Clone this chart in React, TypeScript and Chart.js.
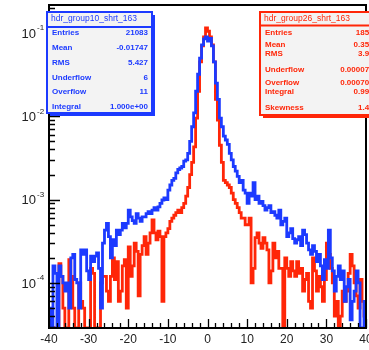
import React, { useEffect, useRef } from 'react';
import { Chart, registerables } from 'chart.js';

Chart.register(...registerables);

// Histogram definition: 160 bins from -40 to 40
const X_MIN = -40;
const X_MAX = 40;
const N_BINS = 160;
const Y_MIN = 2.88e-5;
const Y_MAX = 0.217;

// Blue histogram (group10) bin contents
const blueValues = [
  5e-5, 0, 1.6e-4, 1.3e-4, 0, 1.6e-4, 1.2e-4, 1e-4, 8e-5, 1e-4,
  5e-5, 2e-4, 2.2e-4, 1.1e-4, 1e-4, 5e-5, 2.5e-4, 2.2e-4, 2.5e-4, 1.4e-4,
  1.1e-4, 2.1e-4, 1.8e-4, 2.1e-4, 2.3e-4, 1.5e-4, 5e-5, 3e-4, 4.3e-4, 5.2e-4,
  3.6e-4, 2e-4, 3.3e-4, 2.8e-4, 4.3e-4, 3.8e-4, 4.3e-4, 5.2e-4, 4.6e-4, 5.2e-4,
  7.5e-4, 6.2e-4, 5.6e-4, 5.2e-4, 6.8e-4, 6e-4, 5.5e-4, 6.2e-4, 6.2e-4, 6.8e-4,
  7.2e-4, 6.8e-4, 7.5e-4, 8e-4, 7.5e-4, 8.2e-4, 9e-4, 9.9e-4, 1.05e-3, 1.0e-3,
  1.3e-3, 1.5e-3, 1.7e-3, 1.8e-3, 2.1e-3, 2.3e-3, 2.4e-3, 2.5e-3, 2.9e-3, 3.0e-3,
  3.6e-3, 5e-3, 7.5e-3, 1.1e-2, 2e-2, 3.2e-2, 5e-2, 7.2e-2, 8.5e-2, 9e-2,
  8e-2, 8.6e-2, 7e-2, 4.5e-2, 2.5e-2, 1.6e-2, 9.5e-3, 7.5e-3, 5.8e-3, 5.2e-3,
  4.6e-3, 3.6e-3, 3e-3, 2.5e-3, 2.2e-3, 1.9e-3, 1.6e-3, 1.7e-3, 1.3e-3, 1.2e-3,
  9e-4, 1.2e-3, 1.1e-3, 1.6e-3, 1.0e-3, 1.1e-3, 9e-4, 9.5e-4, 8.5e-4, 7.5e-4,
  8e-4, 8.5e-4, 7e-4, 7.2e-4, 6.5e-4, 6e-4, 7.5e-4, 5e-4, 5.5e-4, 6e-4,
  3.6e-4, 4e-4, 4.5e-4, 3.4e-4, 3e-4, 3.3e-4, 3.6e-4, 2.8e-4, 4.3e-4, 3.8e-4,
  3e-4, 2.5e-4, 2.2e-4, 2.8e-4, 2.4e-4, 1.8e-4, 2.2e-4, 1.6e-4, 1.1e-4, 1.9e-4,
  1.5e-4, 4.3e-4, 2e-4, 1.4e-4, 8e-5, 1.2e-4, 1.6e-4, 1.1e-4, 1.4e-4, 6e-5,
  9e-5, 1.1e-4, 3.6e-5, 6e-5, 8e-5, 1.4e-4, 1e-4, 0, 0, 6e-5,
];

// Red histogram (group26) bin contents
const redValues = [
  0, 0, 0, 0, 0, 1.7e-4, 1.2e-4, 5e-5, 0, 0,
  1.9e-4, 1.2e-4, 5e-5, 0, 0, 1e-4, 6e-5, 5e-5, 0, 0,
  0, 1.5e-4, 1.3e-4, 0, 0, 0, 1e-4, 1.2e-4, 1.2e-4, 8e-5,
  6e-5, 1.2e-4, 2e-4, 1.1e-4, 1.8e-4, 6e-5, 8e-5, 1.6e-4, 1.9e-4, 5e-5,
  2.7e-4, 1.2e-4, 1.6e-4, 3e-4, 2.4e-4, 7e-5, 2.2e-4, 2.8e-4, 3.6e-4, 2.2e-4,
  3e-4, 4e-4, 5.7e-4, 4e-4, 3.3e-4, 4.2e-4, 3.6e-4, 6e-5, 3.6e-4, 4e-4,
  4.5e-4, 5.5e-4, 6e-4, 6.5e-4, 7e-4, 7.5e-4, 7e-4, 8e-4, 9e-4, 1.1e-3,
  1.4e-3, 2e-3, 2.8e-3, 4.3e-3, 9.5e-3, 2e-2, 4.5e-2, 7e-2, 9e-2, 1.15e-1,
  1.05e-1, 9e-2, 7.2e-2, 4.5e-2, 1.6e-2, 9e-3, 4.5e-3, 2.8e-3, 1.7e-3, 1.6e-3,
  1.5e-3, 1.4e-3, 1.2e-3, 1e-3, 9e-4, 8e-4, 7e-4, 6e-4, 6e-4, 5e-4,
  5e-4, 6e-4, 1e-4, 1.5e-4, 3.5e-4, 4e-4, 3e-4, 2.6e-4, 3.5e-4, 3e-4,
  2.5e-4, 1e-4, 1.4e-4, 3e-4, 2e-4, 2.4e-4, 1.5e-4, 1.5e-4, 0, 2e-4,
  1.5e-4, 1.2e-4, 1.8e-4, 1.4e-4, 1.2e-4, 1.8e-4, 1.3e-4, 1.5e-4, 8e-5, 1.1e-4,
  1.3e-4, 6e-5, 5e-5, 2e-4, 1.4e-4, 8e-5, 1.2e-4, 9e-5, 6e-5, 1.1e-4,
  3e-4, 2.2e-4, 1.5e-4, 1e-4, 4e-5, 6e-5, 0, 4e-5, 8e-5, 6e-5,
  8e-5, 1.3e-4, 2.2e-4, 1.6e-4, 1e-4, 7e-5, 5e-5, 1.1e-4, 6e-5, 4e-5,
];

// Axis ticks / labels
const xMajorTicks = [-40, -30, -20, -10, 0, 10, 20, 30, 40];
const xTickLabels = ['-40', '-30', '-20', '-10', '0', '10', '20', '30', '40'];
const xMinorStep = 2;
const yDecades = [1e-4, 1e-3, 1e-2, 1e-1];
const yExponentLabels = ['-4', '-3', '-2', '-1'];

// Stats boxes
const blueTitle = 'hdr_group10_shrt_163';
const blueStatLabels = ['Entries', 'Mean', 'RMS', 'Underflow', 'Overflow', 'Integral'];
const blueStatValues = ['21083', '-0.01747', '5.427', '6', '11', '1.000e+00'];
const redTitle = 'hdr_group26_shrt_163';
const redStatLabels = ['Entries', 'Mean', 'RMS', 'Underflow', 'Overflow', 'Integral', 'Skewness'];
const redStatValues = ['18520', '0.3555', '3.945', '0.0000771', '0.0007016', '0.9990', '1.439'];

const BLUE = 'rgb(28,58,255)';
const RED = 'rgb(255,38,8)';
const FONT = 'Liberation Sans, Arial, Helvetica, sans-serif';

function histPoints(values: number[]) {
  const w = (X_MAX - X_MIN) / N_BINS;
  const pts: { x: number; y: number }[] = [];
  for (let i = 0; i <= N_BINS; i++) {
    const v = values[Math.min(i, N_BINS - 1)];
    pts.push({ x: X_MIN + i * w, y: v > 0 ? v : Y_MIN });
  }
  return pts;
}

function drawStatBox(
  ctx: CanvasRenderingContext2D,
  x: number, y: number, w: number, h: number,
  color: string, title: string, labels: string[], values: string[],
  titleY: number, sepY: number, rowYs: number[], valueRight: number
) {
  ctx.save();
  ctx.fillStyle = color;
  ctx.fillRect(x + 3, y + 3, w, h);
  ctx.fillStyle = '#f3f3f3';
  ctx.fillRect(x, y, w, h);
  ctx.strokeStyle = color;
  ctx.lineWidth = 2;
  ctx.strokeRect(x, y, w, h);
  ctx.beginPath();
  ctx.moveTo(x, sepY);
  ctx.lineTo(x + w, sepY);
  ctx.stroke();
  ctx.fillStyle = color;
  ctx.textBaseline = 'middle';
  ctx.font = `8.5px ${FONT}`;
  ctx.textAlign = 'left';
  ctx.fillText(title, x + 4, titleY);
  ctx.font = `bold 8px ${FONT}`;
  labels.forEach((l, i) => {
    ctx.textAlign = 'left';
    ctx.fillText(l, x + 5, rowYs[i]);
    ctx.textAlign = 'right';
    ctx.fillText(values[i], valueRight, rowYs[i]);
  });
  ctx.restore();
}

const rootPlugin = {
  id: 'rootFrame',
  afterDatasetsDraw(chart: any) {
    const { ctx, chartArea: a, scales } = chart;
    const xs = scales.x;
    const ys = scales.y;
    ctx.save();
    ctx.strokeStyle = '#000';
    ctx.lineWidth = 2;
    ctx.strokeRect(a.left, a.top, a.right - a.left, a.bottom - a.top);

    // y ticks (log)
    ctx.lineWidth = 1.3;
    ctx.beginPath();
    for (let e = -5; e <= -1; e++) {
      for (let m = 1; m <= 9; m++) {
        const v = m * Math.pow(10, e);
        if (v < Y_MIN || v > Y_MAX) continue;
        const py = Math.round(ys.getPixelForValue(v)) + 0.5;
        const len = m === 1 ? 11 : 6;
        ctx.moveTo(a.left, py);
        ctx.lineTo(a.left + len, py);
      }
    }
    // x ticks
    for (let v = X_MIN; v <= X_MAX; v += xMinorStep) {
      const px = Math.round(xs.getPixelForValue(v)) + 0.5;
      const len = v % 10 === 0 ? 9 : 5;
      ctx.moveTo(px, a.bottom);
      ctx.lineTo(px, a.bottom - len);
    }
    ctx.stroke();

    // labels
    ctx.fillStyle = '#222';
    ctx.textBaseline = 'middle';
    ctx.textAlign = 'center';
    ctx.font = `12px ${FONT}`;
    xMajorTicks.forEach((v, i) => {
      ctx.fillText(xTickLabels[i], xs.getPixelForValue(v), 340);
    });
    yDecades.forEach((v, i) => {
      const py = ys.getPixelForValue(v);
      ctx.textAlign = 'right';
      ctx.font = `13px ${FONT}`;
      ctx.fillText('10', 36, py + 1);
      ctx.textAlign = 'left';
      ctx.font = `8px ${FONT}`;
      ctx.fillText(yExponentLabels[i], 37, py - 5);
    });
    ctx.restore();
  },
  afterDraw(chart: any) {
    const ctx = chart.ctx;
    drawStatBox(ctx, 47, 12, 105, 101, BLUE, blueTitle, blueStatLabels, blueStatValues,
      19, 27, [33, 48, 63, 78, 92, 107], 148);
    drawStatBox(ctx, 260, 12, 125, 103, RED, redTitle, redStatLabels, redStatValues,
      18.5, 25.5, [33, 45, 54, 70, 83, 92, 108], 378);
  },
};

export default function App() {
  const ref = useRef<HTMLCanvasElement>(null);
  useEffect(() => {
    if (!ref.current) return;
    const chart = new Chart(ref.current, {
      type: 'line',
      data: {
        datasets: [
          {
            data: histPoints(blueValues),
            borderColor: BLUE,
            borderWidth: 2.8,
            stepped: 'before',
            fill: false,
            pointRadius: 0,
          },
          {
            data: histPoints(redValues),
            borderColor: RED,
            borderWidth: 2.8,
            stepped: 'before',
            fill: false,
            pointRadius: 0,
          },
        ],
      },
      options: {
        responsive: false,
        animation: false,
        layout: { padding: { left: 49, right: 3, top: 5, bottom: 22 } },
        plugins: { legend: { display: false }, tooltip: { enabled: false } },
        scales: {
          x: { type: 'linear', min: X_MIN, max: X_MAX, display: false },
          y: { type: 'logarithmic', min: Y_MIN, max: Y_MAX, display: false },
        },
      },
      plugins: [rootPlugin],
    } as any);
    return () => chart.destroy();
  }, []);
  return (
    <div style={{ position: 'fixed', left: 0, top: 0, width: 369, height: 350, background: '#fff' }}>
      <canvas ref={ref} width={369} height={350} style={{ display: 'block' }} />
    </div>
  );
}
